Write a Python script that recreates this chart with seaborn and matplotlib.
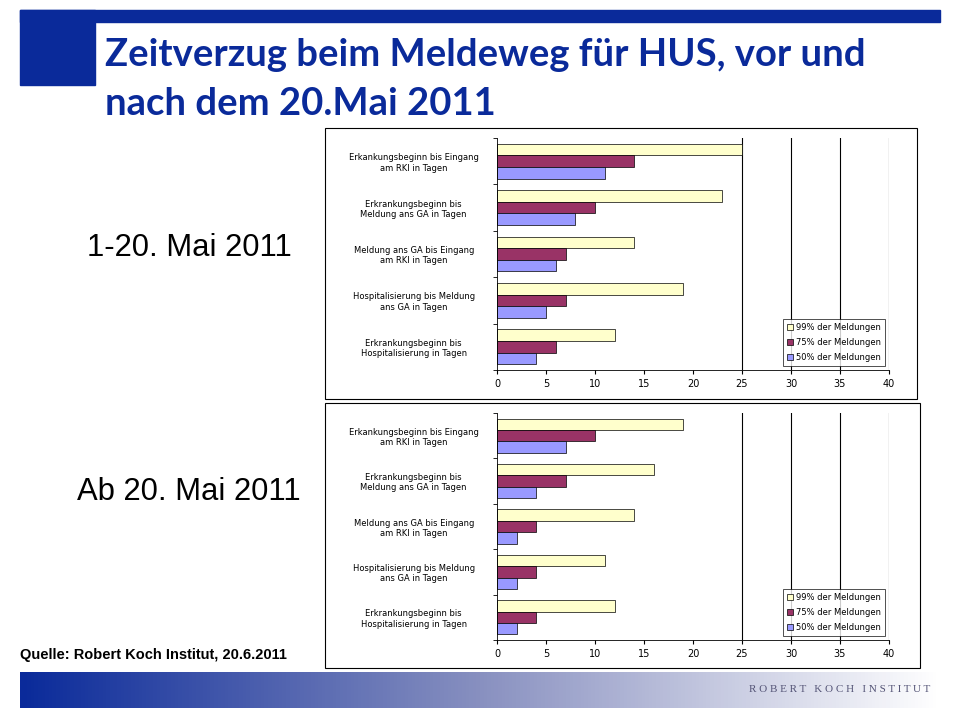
import matplotlib
matplotlib.use("Agg")
import matplotlib.pyplot as plt
import seaborn as sns
import pandas as pd
import numpy as np
from matplotlib.patches import Rectangle

categories = ["Erkankungsbeginn bis Eingang\nam RKI in Tagen",
              "Erkrankungsbeginn bis\nMeldung ans GA in Tagen",
              "Meldung ans GA bis Eingang\nam RKI in Tagen",
              "Hospitalisierung bis Meldung\nans GA in Tagen",
              "Erkrankungsbeginn bis\nHospitalisierung in Tagen"]
series = ["99% der Meldungen", "75% der Meldungen", "50% der Meldungen"]
before_99 = [25, 23, 14, 19, 12]
before_75 = [14, 10, 7, 7, 6]
before_50 = [11, 8, 6, 5, 4]
after_99 = [19, 16, 14, 11, 12]
after_75 = [10, 7, 4, 4, 4]
after_50 = [7, 4, 2, 2, 2]
xticks = [0, 5, 10, 15, 20, 25, 30, 35, 40]
colors = ["#FFFFCC", "#993366", "#9999FF"]

W, H = 960, 720
fig = plt.figure(figsize=(9.6, 7.2), dpi=100)
bg = fig.add_axes([0, 0, 1, 1])
bg.set_xlim(0, W); bg.set_ylim(H, 0); bg.axis("off")
bg.add_patch(Rectangle((20, 10), 920, 12, color="#0A2A9A"))
bg.add_patch(Rectangle((20, 10), 75, 75, color="#0A2A9A"))
grad = np.linspace(0, 1, 256)[None, :]
cmap = matplotlib.colors.LinearSegmentedColormap.from_list("g", ["#0A2A9A", "#8890C0", "#FFFFFF"])
bg.imshow(grad, cmap=cmap, extent=(20, 940, 708, 672), aspect="auto")
bg.text(105, 55, "Zeitverzug beim Meldeweg für HUS, vor und", fontsize=27.5, fontweight="bold",
        color="#0A2A9A", va="center", family="Lato")
bg.text(105, 104, "nach dem 20.Mai 2011", fontsize=27.5, fontweight="bold",
        color="#0A2A9A", va="center", family="Lato")
bg.text(189, 248, "1-20. Mai 2011", fontsize=22.3, ha="center", va="center", family="Liberation Sans")
bg.text(189, 492, "Ab 20. Mai 2011", fontsize=22.3, ha="center", va="center", family="Liberation Sans")
bg.text(20, 655, "Quelle: Robert Koch Institut, 20.6.2011", fontsize=10.5, fontweight="bold",
        va="center", family="Liberation Sans")
bg.text(840, 690, "R O B E R T   K O C H   I N S T I T U T", fontsize=8, color="#555577", ha="center",
        va="center", family="Liberation Serif")
bg.add_patch(Rectangle((325, 128), 592, 271, fill=False, ec="black", lw=0.8))
bg.add_patch(Rectangle((325, 403), 595, 265, fill=False, ec="black", lw=0.8))

def draw(vals, box):
    x0, y0, x1, y1 = box
    ax = fig.add_axes([x0 / W, 1 - y1 / H, (x1 - x0) / W, (y1 - y0) / H])
    df = pd.DataFrame({"cat": categories * 3,
                       "series": sum([[s] * 5 for s in series], []),
                       "val": vals[0] + vals[1] + vals[2]})
    sns.barplot(data=df, y="cat", x="val", hue="series", hue_order=series, palette=colors,
                orient="h", width=0.75, edgecolor="black", linewidth=0.5, ax=ax, saturation=1)
    ax.set_xlim(0, 40); ax.set_xticks(xticks)
    for t in xticks:
        if t >= 25:
            ax.axvline(t, color="black", lw=0.8, zorder=0)
    ax.set_xlabel(""); ax.set_ylabel("")
    ax.tick_params(axis="x", labelsize=7, length=3)
    ax.tick_params(axis="y", labelsize=6, length=0)
    for lbl in ax.get_yticklabels():
        lbl.set_ha("center"); lbl.set_x(-0.2)
    ax.set_yticks(np.arange(-0.5, 5, 1), minor=True)
    ax.tick_params(axis="y", which="minor", length=3)
    for s in ["top", "right"]:
        ax.spines[s].set_visible(False)
    for s in ["left", "bottom"]:
        ax.spines[s].set_linewidth(0.6)
    leg = ax.legend(loc="lower right", bbox_to_anchor=(1.0, 0.0), fontsize=6, frameon=True,
                    fancybox=False, edgecolor="black", handlelength=0.7, handleheight=0.7,
                    borderpad=0.5, labelspacing=0.7, handletextpad=0.3)
    leg.get_frame().set_linewidth(0.6)

draw([before_99, before_75, before_50], (497, 138, 889, 370))
draw([after_99, after_75, after_50], (497, 413, 889, 640))
fig.savefig("out.png", dpi=100)
